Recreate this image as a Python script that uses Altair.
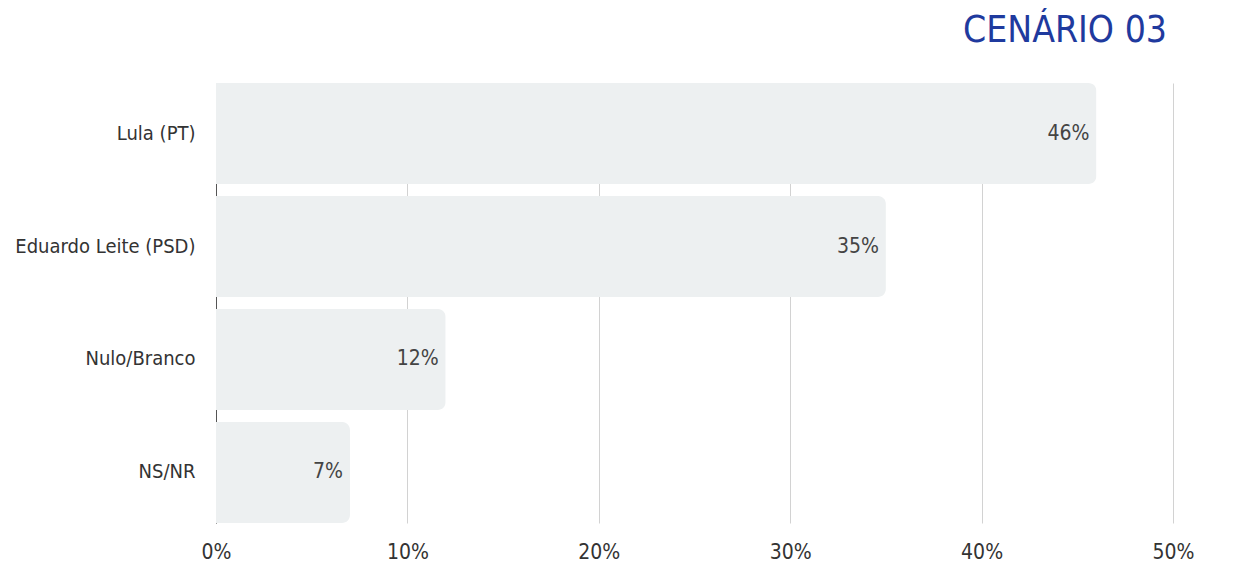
import altair as alt
import pandas as pd

categories = ["Lula (PT)", "Eduardo Leite (PSD)", "Nulo/Branco", "NS/NR"]
values = [46, 35, 12, 7]
value_labels = ["46%", "35%", "12%", "7%"]

df = pd.DataFrame({"cat": categories, "val": values, "lbl": value_labels})

FONT = "DejaVu Sans Condensed, Liberation Sans Narrow, sans-serif"

y_enc = alt.Y(
    "cat:N",
    sort=categories,
    title=None,
    scale=alt.Scale(paddingInner=0.106, paddingOuter=0),
    axis=alt.Axis(
        domain=True,
        domainColor="#555555",
        domainWidth=1,
        ticks=False,
        grid=False,
        labelFont=FONT,
        labelFontSize=20,
        labelColor="#333333",
        labelPadding=21,
        labelLimit=400,
        zindex=0,
    ),
)

x_enc = alt.X(
    "val:Q",
    title=None,
    scale=alt.Scale(domain=[0, 50], nice=False),
    axis=alt.Axis(
        values=[0, 10, 20, 30, 40, 50],
        labelExpr="datum.value + '%'",
        labelFlush=False,
        labelAlign="center",
        domain=False,
        ticks=False,
        grid=True,
        gridColor="#d2d2d2",
        gridWidth=1,
        labelFont=FONT,
        labelFontSize=21,
        labelColor="#333333",
        labelPadding=18,
        zindex=0,
    ),
)

bars = alt.Chart(df).mark_bar(color="#edf0f1", cornerRadiusEnd=8).encode(x=x_enc, y=y_enc)

text = alt.Chart(df).mark_text(
    align="right", baseline="middle", dx=-7, font=FONT, fontSize=21, color="#444444"
).encode(x="val:Q", y=alt.Y("cat:N", sort=categories), text="lbl:N")

chart = (
    alt.layer(bars, text)
    .properties(
        width=957,
        height=440,
        padding={"left": 208, "top": 75, "right": 50, "bottom": 50},
        autosize=alt.AutoSizeParams(type="none"),
        title=alt.TitleParams(
            "CENÁRIO 03",
            anchor="end",
            font=FONT,
            fontSize=37,
            fontWeight="normal",
            color="#1f3a9e",
            offset=33,
            dx=-27,
        ),
    )
    .configure_view(stroke=None)
)

chart.save("out.html", embed_options={"renderer": "svg", "actions": False})
